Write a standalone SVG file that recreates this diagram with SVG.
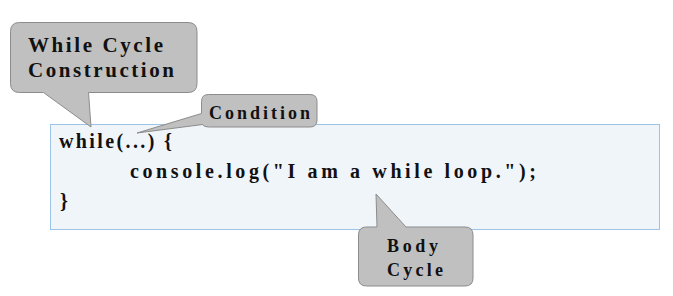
<svg xmlns="http://www.w3.org/2000/svg" width="673" height="296" viewBox="0 0 673 296">
  <style>
    .callout { fill: #c0c0c0; stroke: #8c8c8c; stroke-width: 1; }
    .code-box { fill: #f0f5fa; stroke: #9dc3e6; stroke-width: 1; }
    .label { font-family: "Liberation Serif", "Times New Roman", serif; font-weight: bold; fill: #111; }
    .code { font-family: "Liberation Serif", "Times New Roman", serif; font-weight: bold; font-size: 20px; fill: #111; }
  </style>
  <rect width="673" height="296" fill="#ffffff"/>

  <!-- code block -->
  <g id="code-block">
    <rect class="code-box" x="50.5" y="124.5" width="609" height="105"/>
    <text class="code" x="59" y="148" textLength="113" lengthAdjust="spacing">while(...) {</text>
    <text class="code" x="130" y="178" textLength="406" lengthAdjust="spacing">console.log("I am a while loop.");</text>
    <text class="code" x="60" y="208">}</text>
  </g>

  <!-- callout pointers live inside each callout outline -->
  <g id="connectors"/>

  <g id="callout-construction">
    <path class="callout" d="M19.5,22.5 H188 Q197,22.5 197,31.5 V83.5 Q197,92.5 188,92.5 H88.5 L91,127 L43.5,92.5 H19.5 Q10.5,92.5 10.5,83.5 V31.5 Q10.5,22.5 19.5,22.5 Z"/>
    <text class="label" x="28" y="52" font-size="21" textLength="135" lengthAdjust="spacing">While Cycle</text>
    <text class="label" x="28" y="77" font-size="21" textLength="146" lengthAdjust="spacing">Construction</text>
  </g>

  <g id="callout-condition">
    <path class="callout" d="M208.5,94.5 H310 Q317,94.5 317,101.5 V120 Q317,127 310,127 H208.5 Q204,127 202.5,124.5 L137,133 L201.5,113.5 V101.5 Q201.5,94.5 208.5,94.5 Z"/>
    <text class="label" x="209" y="119" font-size="18" textLength="101" lengthAdjust="spacing">Condition</text>
  </g>

  <g id="callout-body">
    <path class="callout" d="M366.5,227 H377 L376,194 L406,227 H465 Q473,227 473,235 V278 Q473,286 465,286 H366.5 Q358.5,286 358.5,278 V235 Q358.5,227 366.5,227 Z"/>
    <text class="label" x="387" y="252" font-size="18" textLength="51" lengthAdjust="spacing">Body</text>
    <text class="label" x="387" y="276" font-size="18" textLength="56" lengthAdjust="spacing">Cycle</text>
  </g>
</svg>
